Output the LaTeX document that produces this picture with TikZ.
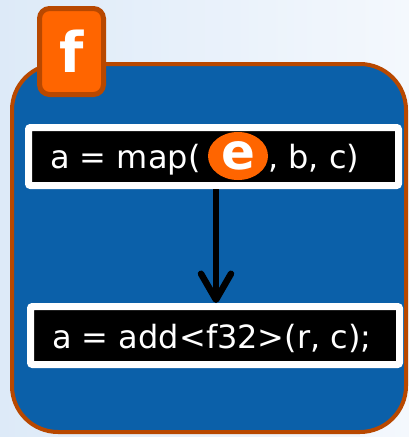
\documentclass[tikz,border=0pt]{standalone}
\usepackage{fontspec}
\setmainfont{DejaVu Sans}
\usetikzlibrary{arrows.meta,shapes.geometric,shadows}
\definecolor{bgA}{HTML}{DDEAF8}
\definecolor{bgB}{HTML}{F4F8FD}
\definecolor{panel}{HTML}{0B60A9}
\definecolor{rust}{HTML}{B84800}
\definecolor{tang}{HTML}{FF6500}
\tikzset{
  codebox/.style={draw=white, line width=7pt, fill=black, rounded corners=2pt,
    minimum height=58pt, inner sep=0pt,
    drop shadow={shadow xshift=1.5pt, shadow yshift=-1.5pt, opacity=0.35}},
  codetext/.style={text=white, font=\fontsize{32}{32}\selectfont, inner sep=0pt},
  flow/.style={line width=6.5pt, -{Straight Barb[length=26pt, width=30pt, line join=round, line cap=round]}},
}
\begin{document}
\begin{tikzpicture}[x=1pt,y=-1pt]
  \useasboundingbox (0,0) rectangle (409,437);
  % backdrop
  \shade[left color=bgA, right color=bgB] (0,0) rectangle (409,437);
  % function body panel
  \draw[rust, line width=4pt, fill=panel, rounded corners=46pt] (12,64) rectangle (406,432);
  % function tab
  \node[draw=rust, fill=tang, line width=5pt, rounded corners=10pt,
        minimum width=64pt, minimum height=86pt, inner sep=0pt,
        text=white, font=\bfseries\fontsize{56}{56}\selectfont] (tab) at (71.5,51.5) {f};
  % statements
  \node[codebox, minimum width=370pt] (mapbox) at (213.5,156.5) {};
  \node[codebox, minimum width=369pt] (addbox) at (215,335.5) {};
  \node[codetext, anchor=base west] (mapA) at (50,168) {a = map(};
  \node[ellipse, fill=tang, minimum width=60pt, minimum height=48pt, inner sep=0pt,
        text=white, font=\bfseries\fontsize{50}{50}\selectfont] (arg) at (238,156) {e};
  \node[codetext, anchor=base west] (mapB) at (268,168) {, b, c)};
  \node[codetext, anchor=base west] (addtxt) at (52,348) {a = add<f32>(r, c);};
  % data flow
  \draw[flow] ([xshift=2.5pt]mapbox.south) -- ([xshift=1pt]addbox.north);
\end{tikzpicture}
\end{document}
